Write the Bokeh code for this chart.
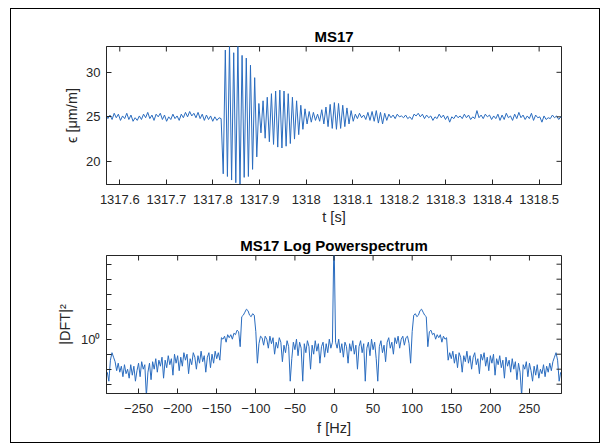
import numpy as np
from bokeh.plotting import figure
from bokeh.layouts import column
from bokeh.models import Range1d, FixedTicker, CustomJSTickFormatter, ColumnDataSource
from bokeh.embed import file_html
from bokeh.resources import INLINE

# ---------------- data ----------------
t_start = 1317.570          # s, first sample
t_step = 0.0045             # s, sample spacing of the read-off trace
strain = [
    # quiet part before the event
    25.3, 24.8, 25.2, 24.7, 25.4, 24.9, 25.3, 24.6, 25.1, 24.8,
    25.4, 24.7, 25.2, 24.5, 24.9, 24.6, 25.1, 24.7, 25.3, 24.9,
    25.5, 24.8, 25.2, 24.6, 25.3, 25.0, 25.4, 24.7, 25.2, 24.5,
    25.0, 24.7, 25.3, 24.8, 25.1, 24.6, 25.3, 24.9, 25.5, 25.0,
    25.6, 25.1, 25.4, 24.9, 25.5, 24.8, 25.3, 24.6, 25.2, 24.7,
    25.1, 24.5, 25.0, 24.6, 24.9,
    # first (large) burst
    24.8, 18.6, 32.5, 18.3, 33.2, 17.9, 32.2, 17.6, 33.0, 17.0,
    31.9, 18.2, 31.6, 18.3, 30.8, 19.1, 29.4, 20.5, 26.5,
    # second burst
    23.2, 26.8, 22.6, 27.2, 22.2, 27.6, 21.9, 27.9, 21.6, 28.0,
    21.5, 27.9, 21.7, 27.6, 22.0, 27.2, 22.5, 26.8, 23.0, 26.3,
    23.6, 25.9,
    # gap
    24.2, 25.6, 24.4, 25.5, 24.6, 25.3,
    # third burst
    24.5, 25.8, 24.2, 26.1, 23.9, 26.4, 23.7, 26.6, 23.6, 26.5,
    23.7, 26.3, 23.9, 26.0, 24.2, 25.7, 24.5,
    # quiet part after the event
    25.3, 24.8, 25.4, 24.9, 25.2, 24.7, 25.5, 24.6, 25.6, 24.5,
    25.7, 24.3, 25.5, 24.2, 25.4, 24.6, 25.3, 24.9, 25.2, 24.8,
    25.3, 25.0, 25.1, 24.9, 25.2, 24.8, 25.0, 24.7, 25.3, 25.1,
    25.4, 25.0, 25.3, 24.8, 25.2, 24.9, 25.1, 24.6, 25.0, 24.8,
    25.3, 24.9, 25.2, 24.7, 25.1, 24.4, 25.0, 24.8, 25.2, 24.9,
    25.1, 24.8, 25.3, 24.9, 25.2, 24.7, 25.0, 24.8, 25.7, 24.9,
    25.2, 24.8, 25.3, 25.0, 25.2, 24.7, 25.1, 24.8, 25.3, 24.6,
    25.2, 24.7, 25.4, 24.9, 25.1, 24.6, 25.3, 24.8, 25.5, 24.9,
    25.2, 24.7, 25.1, 24.8, 25.4, 24.6, 25.2, 24.9, 25.0, 24.4,
    25.1, 24.7, 24.9, 24.8, 25.2, 24.9, 25.1, 24.7, 25.0, 24.9,
]
time_ticks = [1317.6, 1317.7, 1317.8, 1317.9, 1318.0,
              1318.1, 1318.2, 1318.3, 1318.4, 1318.5]
strain_ticks = [20, 25, 30]

# one-sided spectrum (Hz) and log10 power;
# the plotted spectrum is symmetric about 0 Hz
freq_pos = list(range(0, 292, 2))
log_power_pos = [
    7.0, -0.2, -0.6, 0.0, -0.9, -0.3, -1.2, -0.2, -0.5, -1.6,   # 0-18
    -0.3, -0.8, -0.1, -1.0, -0.4, -2.0, -0.5, -0.1, -0.9, -0.3,  # 20-38
    -2.8, -0.6, -0.2, -1.1, 0.0, -0.7, -0.2, -1.3, -2.8, -0.5,   # 40-58
    -0.1, -0.9, -0.4, -1.5, -0.2, 0.1, -0.6, -0.2, -1.0, 0.1,    # 60-78
    -0.3, 0.2, -0.6, 0.0, 0.2, -0.4, 0.1, 0.2, -0.3, -1.6,       # 80-98
    0.5, 1.6, 1.7, 1.5, 1.6, 1.9, 2.0, 1.8, 1.6, 1.5,            # 100-118
    -0.5, 0.5, 0.6, 0.3, 0.4, 0.0, 0.3, 0.1, 0.3, -0.2,          # 120-138
    0.2, 0.0, 0.1, -1.4, -0.9, -1.3, -0.8, -1.6, -1.0, -1.9,     # 140-158
    -0.9, -1.2, -2.2, -1.1, -1.5, -0.8, -1.6, -1.1, -2.0, -1.2,  # 160-178
    -0.9, -1.7, -1.3, -2.3, -1.0, -1.4, -0.9, -1.8, -1.2, -2.1,  # 180-198
    -1.1, -1.6, -1.0, -2.4, -1.3, -1.7, -1.1, -1.9, -1.4, -2.6,  # 200-218
    -1.2, -1.8, -1.4, -2.2, -1.3, -2.0, -1.5, -2.7, -1.6, -2.2,  # 220-238
    -3.8, -1.7, -2.0, -1.5, -2.5, -1.6, -2.1, -2.8, -1.8, -2.4,  # 240-258
    -1.7, -2.6, -2.0, -2.3, -1.7, -2.5, -1.8, -2.2, -1.6, -2.1,  # 260-278
    -1.5, -1.2, -0.9, -1.4, -2.8, -2.2,                          # 280-290
]
freq_ticks = [-250, -200, -150, -100, -50, 0, 50, 100, 150, 200, 250]
power_major_ticks = [1.0]
power_minor_ticks = [1e-3, 1e-2, 1e-1, 1e1, 1e2, 1e3, 1e4, 1e5]

# ---------------- derived arrays ----------------
t = t_start + t_step * np.arange(len(strain))
src_t = ColumnDataSource(dict(t=t, y=strain))

freqs = [-f for f in reversed(freq_pos[1:])] + freq_pos
logp = list(reversed(log_power_pos[1:])) + log_power_pos
power = 10.0 ** np.array(logp)
src_f = ColumnDataSource(dict(f=freqs, p=power))

# ---------------- style ----------------
FONT = "Liberation Sans"
AX = "#262626"
LINE = "#2a6cbf"


def style_axis(ax, standoff):
    ax.axis_line_color = AX
    ax.major_tick_line_color = AX
    ax.major_tick_in = 5
    ax.major_tick_out = 0
    ax.minor_tick_line_color = None
    ax.major_label_text_font = FONT
    ax.major_label_text_color = AX
    ax.major_label_text_font_size = "13px"
    ax.major_label_standoff = standoff
    ax.axis_label_text_font = FONT
    ax.axis_label_text_font_style = "normal"
    ax.axis_label_text_color = AX
    ax.axis_label_text_font_size = "14.5px"


def style_fig(p, title):
    p.title.text = title
    p.title.text_font = FONT
    p.title.text_font_size = "15px"
    p.title.text_font_style = "bold"
    p.title.text_color = "#000000"
    p.title.align = "center"
    p.title.standoff = 3
    p.outline_line_color = AX
    p.outline_line_alpha = 1
    p.xgrid.visible = False
    p.ygrid.visible = False
    p.background_fill_color = "white"
    p.border_fill_color = "white"


def box_ticks(p, xticks, yticks, xr, yr):
    # inward tick marks on the top and right edges of the axes box
    p.scatter(x=xticks, y=[yr.end] * len(xticks), marker="dash", angle=np.pi / 2,
              size=10, line_color=AX, line_width=1)
    p.scatter(x=[xr.end] * len(yticks), y=yticks, marker="dash",
              size=10, line_color=AX, line_width=1)


# ---------------- top: time signal ----------------
xr1 = Range1d(1317.5715, 1318.548)
yr1 = Range1d(17.4, 32.9)
p1 = figure(width=588, height=220, output_backend="svg", toolbar_location=None,
            x_range=xr1, y_range=yr1,
            min_border_left=95, min_border_right=38,
            min_border_top=37, min_border_bottom=45)
style_fig(p1, "MS17")
p1.line("t", "y", source=src_t, line_color=LINE, line_width=1)
box_ticks(p1, time_ticks, strain_ticks, xr1, yr1)

p1.xaxis.ticker = FixedTicker(ticks=time_ticks)
p1.xaxis.formatter = CustomJSTickFormatter(code="return String(Math.round(tick*10)/10);")
p1.xaxis.axis_label = "t [s]"
p1.yaxis.ticker = FixedTicker(ticks=strain_ticks)
p1.yaxis.axis_label = "ϵ [μm/m]"
style_axis(p1.xaxis[0], 10)
style_axis(p1.yaxis[0], 6)
p1.xaxis.axis_label_standoff = 2
p1.yaxis.axis_label_standoff = 3

# ---------------- bottom: power spectrum ----------------
xr2 = Range1d(-291, 291)
yr2 = Range1d(10 ** -3.62, 10 ** 5.58)
p2 = figure(width=588, height=213, output_backend="svg", toolbar_location=None,
            x_range=xr2, y_range=yr2, y_axis_type="log",
            min_border_left=95, min_border_right=38,
            min_border_top=26, min_border_bottom=49)
style_fig(p2, "MS17 Log Powerspectrum")
p2.line("f", "p", source=src_f, line_color=LINE, line_width=1)
box_ticks(p2, freq_ticks, power_major_ticks + power_minor_ticks, xr2, yr2)

p2.xaxis.ticker = FixedTicker(ticks=freq_ticks)
p2.xaxis.axis_label = "f [Hz]"
p2.yaxis.ticker = FixedTicker(ticks=power_major_ticks, minor_ticks=power_minor_ticks)
p2.yaxis.major_label_overrides = {1: "10⁰"}
p2.yaxis.axis_label = "|DFT|²"
style_axis(p2.xaxis[0], 10)
style_axis(p2.yaxis[0], 6)
p2.yaxis.minor_tick_line_color = AX
p2.yaxis.minor_tick_in = 5
p2.yaxis.minor_tick_out = 0
p2.xaxis.axis_label_standoff = 4
p2.yaxis.axis_label_standoff = 5

layout = column(p1, p2, spacing=0,
                styles={"border": "1px solid #000000",
                        "margin-top": "8px", "margin-left": "10px",
                        "background-color": "white"})

open("out.html", "w").write(file_html(layout, INLINE))
